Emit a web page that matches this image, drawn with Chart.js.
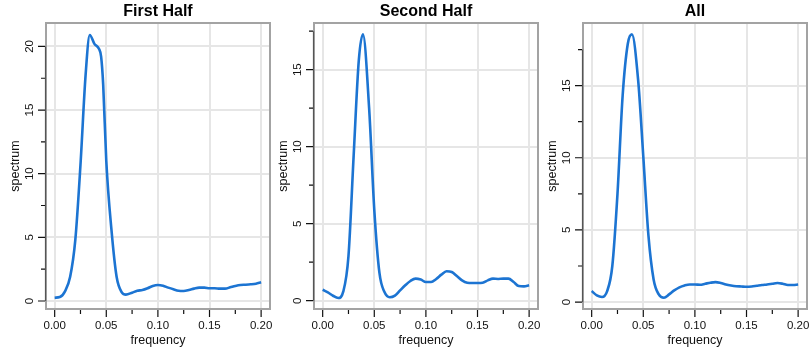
<!DOCTYPE html>
<html>
<head>
<meta charset="utf-8">
<script src="https://cdn.jsdelivr.net/npm/chart.js@4.4.1/dist/chart.umd.min.js"></script>
<style>
  html,body{margin:0;padding:0;background:#fff;}
  body{width:810px;height:350px;position:relative;overflow:hidden;}
  .panel{position:absolute;top:0;width:272px;height:350px;}
</style>
</head>
<body>
<div class="panel" style="left:0px"><canvas id="c1" width="272" height="350"></canvas></div>
<div class="panel" style="left:268px"><canvas id="c2" width="272" height="350"></canvas></div>
<div class="panel" style="left:537px"><canvas id="c3" width="272" height="350"></canvas></div>
<script>
// ---- data ----
const titles = ["First Half", "Second Half", "All"];
const xLabel = "frequency";
const yLabel = "spectrum";
const xMajorTicks = [0, 0.05, 0.10, 0.15, 0.20];
const xMinorTicks = [0.025, 0.075, 0.125, 0.175];

const freq1 = [0,0.005,0.01,0.015,0.02,0.025,0.03,0.034,0.0385,0.043,0.045,0.047,0.05,0.055,0.06,0.065,0.069,0.075,0.08,0.085,0.09,0.095,0.1,0.105,0.11,0.115,0.12,0.125,0.13,0.135,0.14,0.145,0.15,0.155,0.16,0.165,0.17,0.175,0.18,0.185,0.19,0.195,0.2];
const spec1 = [0.26,0.31,0.76,1.9,4.8,10.7,17.8,20.9,20.2,19.8,19.2,17.0,11.0,5.6,1.9,0.68,0.5,0.65,0.8,0.86,1.0,1.18,1.26,1.2,1.05,0.92,0.81,0.79,0.86,0.97,1.05,1.05,1.0,1.0,0.97,0.97,1.07,1.18,1.26,1.28,1.31,1.36,1.47];

const freq2 = [0,0.005,0.01,0.015,0.02,0.025,0.03,0.035,0.039,0.045,0.05,0.055,0.06,0.065,0.07,0.075,0.08,0.085,0.09,0.095,0.1,0.105,0.11,0.115,0.12,0.125,0.13,0.135,0.14,0.145,0.15,0.155,0.16,0.165,0.17,0.175,0.18,0.185,0.19,0.195,0.2];
const spec2 = [0.71,0.54,0.32,0.17,0.6,2.9,9.4,15.6,17.3,12.5,5.9,1.8,0.54,0.22,0.33,0.67,1.0,1.28,1.43,1.37,1.21,1.21,1.41,1.69,1.91,1.86,1.6,1.32,1.17,1.15,1.15,1.17,1.32,1.43,1.41,1.43,1.43,1.21,0.95,0.93,1.0];

const freq3 = [0,0.005,0.01,0.015,0.02,0.025,0.03,0.035,0.039,0.045,0.05,0.055,0.06,0.065,0.07,0.075,0.08,0.085,0.09,0.095,0.1,0.105,0.11,0.115,0.12,0.125,0.13,0.135,0.14,0.145,0.15,0.155,0.16,0.165,0.17,0.175,0.18,0.185,0.19,0.195,0.2];
const spec3 = [0.76,0.46,0.35,0.76,2.5,7.5,14.3,17.9,18.55,15.4,10.1,4.6,1.57,0.53,0.3,0.53,0.81,1.02,1.15,1.22,1.22,1.2,1.27,1.34,1.38,1.32,1.22,1.15,1.1,1.08,1.06,1.08,1.13,1.18,1.22,1.27,1.32,1.27,1.18,1.18,1.22];

const yMajor1 = [0,5,10,15,20];      const yMinor1 = [2.5,7.5,12.5,17.5];
const yMajor2 = [0,5,10,15];         const yMinor2 = [2.5,7.5,12.5,17.5];
const yMajor3 = [0,5,10,15];         const yMinor3 = [2.5,7.5,12.5,17.5];
const yRange1 = [-0.63, 21.84];
const yRange2 = [-0.54, 18.03];
const yRange3 = [-0.48, 19.34];
const xRange = [-0.0084, 0.2086];

// ---- drawing ----
const FONT = '"Liberation Sans", Arial, Helvetica, sans-serif';
const LINE_COLOR = '#1c74d2';
const GRID_COLOR = '#e6e6e6';

const decorPlugin = {
  id: 'decor',
  afterDraw(chart, args, opts) {
    const ctx = chart.ctx;
    const a = chart.chartArea;
    const xs = chart.scales.x, ys = chart.scales.y;
    ctx.save();
    // box
    ctx.strokeStyle = '#a3a3a3';
    ctx.lineWidth = 2;
    ctx.strokeRect(a.left, a.top, a.right - a.left, a.bottom - a.top);
    // y axis line (first to last tick)
    const yAll = opts.yMajor.concat(opts.yMinor);
    const yMin = Math.min(...yAll), yMax = Math.max(...yAll);
    ctx.strokeStyle = '#555';
    ctx.lineWidth = 1.2;
    ctx.beginPath();
    ctx.moveTo(a.left - 0.5, ys.getPixelForValue(yMin));
    ctx.lineTo(a.left - 0.5, ys.getPixelForValue(yMax));
    ctx.stroke();
    // ticks
    ctx.strokeStyle = '#111';
    ctx.lineWidth = 1.2;
    ctx.beginPath();
    opts.yMajor.forEach(v => { const p = ys.getPixelForValue(v); ctx.moveTo(a.left - 1, p); ctx.lineTo(a.left - 8, p); });
    opts.yMinor.forEach(v => { const p = ys.getPixelForValue(v); ctx.moveTo(a.left - 1, p); ctx.lineTo(a.left - 5, p); });
    opts.xMajor.forEach(v => { const p = xs.getPixelForValue(v); ctx.moveTo(p, a.bottom + 1); ctx.lineTo(p, a.bottom + 8); });
    opts.xMinor.forEach(v => { const p = xs.getPixelForValue(v); ctx.moveTo(p, a.bottom + 1); ctx.lineTo(p, a.bottom + 5); });
    ctx.stroke();
    // tick labels
    ctx.fillStyle = '#111';
    ctx.font = '11.5px ' + FONT;
    ctx.textAlign = 'center';
    ctx.textBaseline = 'middle';
    opts.xMajor.forEach(v => {
      ctx.fillText(v.toFixed(2), xs.getPixelForValue(v), a.bottom + 17);
    });
    opts.yMajor.forEach(v => {
      ctx.save();
      ctx.translate(a.left - 16, ys.getPixelForValue(v));
      ctx.rotate(-Math.PI / 2);
      ctx.fillText(String(v), 0, 0);
      ctx.restore();
    });
    // axis titles
    ctx.font = '12.5px ' + FONT;
    ctx.fillText(opts.xTitle, (a.left + a.right) / 2, a.bottom + 32);
    ctx.save();
    ctx.translate(a.left - 30, (a.top + a.bottom) / 2);
    ctx.rotate(-Math.PI / 2);
    ctx.fillText(opts.yTitle, 0, 0);
    ctx.restore();
    // main title
    ctx.font = 'bold 16px ' + FONT;
    ctx.fillStyle = '#000';
    ctx.fillText(opts.title, (a.left + a.right) / 2, 12);
    ctx.restore();
  }
};

function makePanel(id, title, freq, spec, yMajor, yMinor, yRange) {
  const points = freq.map((f, i) => ({ x: f, y: spec[i] }));
  new Chart(document.getElementById(id), {
    type: 'line',
    data: {
      datasets: [{
        data: points,
        borderColor: LINE_COLOR,
        borderWidth: 2.6,
        pointRadius: 0,
        fill: false,
        cubicInterpolationMode: 'monotone',
        tension: 0.4
      }]
    },
    options: {
      responsive: false,
      animation: false,
      events: [],
      layout: { padding: { top: 23, left: 0, right: 2, bottom: 0 } },
      plugins: {
        legend: { display: false },
        title: { display: false },
        tooltip: { enabled: false },
        decor: {
          title: title, xTitle: xLabel, yTitle: yLabel,
          yMajor: yMajor, yMinor: yMinor,
          xMajor: xMajorTicks, xMinor: xMinorTicks
        }
      },
      scales: {
        x: {
          type: 'linear',
          min: xRange[0], max: xRange[1],
          afterBuildTicks: s => { s.ticks = xMajorTicks.map(v => ({ value: v })); },
          afterFit: s => { s.height = 41; },
          ticks: { display: false },
          grid: { color: GRID_COLOR, lineWidth: 2, drawTicks: false },
          border: { display: false }
        },
        y: {
          type: 'linear',
          min: yRange[0], max: yRange[1],
          afterBuildTicks: s => { s.ticks = yMajor.map(v => ({ value: v })); },
          afterFit: s => { s.width = 46; },
          ticks: { display: false },
          grid: { color: GRID_COLOR, lineWidth: 2, drawTicks: false },
          border: { display: false }
        }
      }
    },
    plugins: [decorPlugin]
  });
}

makePanel('c1', titles[0], freq1, spec1, yMajor1, yMinor1, yRange1);
makePanel('c2', titles[1], freq2, spec2, yMajor2, yMinor2, yRange2);
makePanel('c3', titles[2], freq3, spec3, yMajor3, yMinor3, yRange3);
</script>
</body>
</html>
